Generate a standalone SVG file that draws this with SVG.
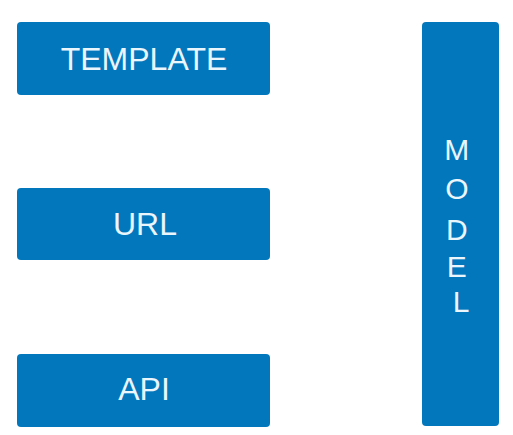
<svg xmlns="http://www.w3.org/2000/svg" width="513" height="435" viewBox="0 0 513 435">
<style>
.box{fill:#0277bc;}
.lbl{fill:#eaf5fc;font-family:"Liberation Sans",Arial,sans-serif;font-size:32px;text-anchor:middle;}
.v{font-size:30px;}
</style>
<rect width="513" height="435" fill="#ffffff"/>
<g id="template">
<rect class="box" x="17" y="22" width="253" height="73" rx="4"/>
<text class="lbl" x="144" y="70">TEMPLATE</text>
</g>
<g id="url">
<rect class="box" x="17" y="188" width="253" height="72" rx="4"/>
<text class="lbl" x="145" y="235">URL</text>
</g>
<g id="api">
<rect class="box" x="17" y="354" width="253" height="73" rx="4"/>
<text class="lbl" x="144" y="400">API</text>
</g>
<g id="model">
<rect class="box" x="422" y="22" width="77" height="404" rx="4"/>
<text class="lbl v">
<tspan x="461" y="160">M</tspan>
<tspan x="461" y="199">O</tspan>
<tspan x="461" y="240">D</tspan>
<tspan x="461" y="277">E</tspan>
<tspan x="461" y="312">L</tspan>
</text>
</g>
<g id="connectors"/>
</svg>
